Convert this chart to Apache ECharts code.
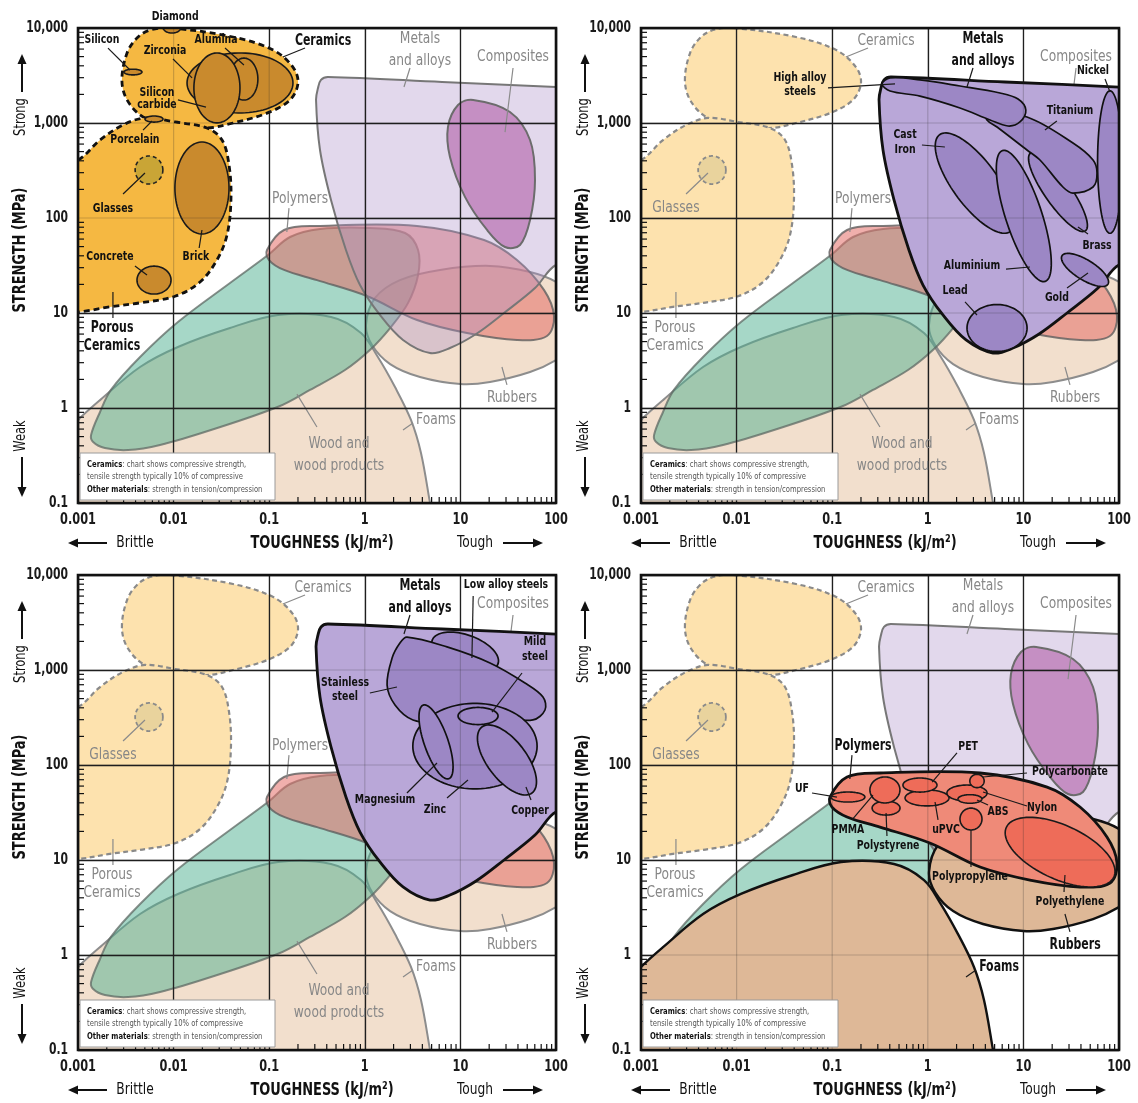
<!DOCTYPE html>
<html>
<head>
<meta charset="utf-8">
<script src="https://cdn.jsdelivr.net/npm/echarts@6/dist/echarts.min.js"></script>
<style>
html,body{margin:0;padding:0;background:#ffffff;}
#chart{width:1138px;height:1103px;}
</style>
</head>
<body>
<div id="chart"></div>
<script>
// ---------------- axis ticks ----------------
const xDecades = [0.001, 0.01, 0.1, 1, 10, 100];
const xTickLabels = ['0.001', '0.01', '0.1', '1', '10', '100'];
const yDecades = [0.1, 1, 10, 100, 1000, 10000];
const yTickLabels = ['0.1', '1', '10', '100', '1,000', '10,000'];
const minorSteps = [2, 3, 4, 5, 6, 7, 8, 9];

// ---------------- family outlines: [toughness kJ/m2, strength MPa] ----------------
const ceramicsUpper = [[0.0092,10000],[0.0418,8040],[0.110,5860],[0.177,3880],[0.200,2640],[0.165,1750],[0.0948,1270],[0.0418,1000],[0.0223,886],[0.00853,953],[0.00479,1156],[0.00326,1750],[0.00288,2840],[0.00326,5450],[0.00414,7850],[0.00566,9520]];
const ceramicsLower = [[0.001,408],[0.00170,662],[0.00296,953],[0.00502,1130],[0.01035,1025],[0.0223,886],[0.0321,662],[0.0380,361],[0.0398,155],[0.0362,66.2],[0.0284,36.1],[0.0189,21.2],[0.01035,15.0],[0.00446,12.8],[0.00216,11.6],[0.00105,10.3],[0.0007,10.3],[0.0007,420]];
const metals = [[0.348,2840],[0.412,3050],[6.43,2700],[100,2390],[160,2300],[160,30],[100,32.0],[60.3,18.3],[28.6,10],[14.6,6.01],[7.78,4.28],[4.81,3.79],[2.51,5.20],[1.44,9.53],[0.891,19.7],[0.635,46.0],[0.443,155],[0.340,520],[0.309,1750],[0.324,2340]];
const composites = [[13.6,1750],[33.0,1305],[53.5,662],[60.3,251],[53.5,95.3],[42.0,52.0],[29.3,49.5],[19.0,74.8],[11.2,166],[7.78,439],[7.41,908],[9.44,1545]];
const polymers = [[0.0948,46.0],[0.143,74.8],[0.316,82.4],[3.52,82.4],[17.7,58.6],[39.1,36.1],[74.8,17.5],[95.3,9.30],[80.5,5.73],[39.1,5.20],[11.7,6.15],[3.52,8.43],[1.05,15.1],[0.316,22.2],[0.143,28.4],[0.0995,36.1]];
const rubbers = [[1.03,7.48],[1.28,14.4],[2.33,22.2],[6.12,28.4],[20.4,31.3],[53.5,27.0],[100,21.2],[158,13.7],[158,4.60],[100,3.20],[53.5,2.39],[20.4,1.88],[10,1.79],[3.78,2.12],[1.84,2.90],[1.19,4.60]];
const foams = [[0.00065,0.460],[0.001,0.748],[0.00170,1.21],[0.00446,2.70],[0.0111,4.39],[0.0389,6.95],[0.124,9.53],[0.443,9.08],[0.912,6.15],[1.37,3.44],[2.07,1.66],[3.04,0.748],[3.87,0.336],[4.81,0.1],[5.16,0.0662],[0.00065,0.0662]];
const wood = [[0.00137,0.520],[0.00170,0.908],[0.00221,1.55],[0.00446,3.44],[0.0111,8.04],[0.0389,20.7],[0.0971,40.8],[0.165,63.1],[0.340,76.6],[1.13,78.5],[2.64,69.5],[3.61,46.0],[3.61,25.1],[2.83,12.7],[1.84,6.95],[1.13,4.08],[0.621,2.51],[0.267,1.55],[0.124,1.03],[0.0246,0.586],[0.00721,0.408],[0.00334,0.361],[0.00191,0.379],[0.00144,0.439]];

// ---------------- individual materials: ellipses {c:[toughness,strength], r:[decades, decades], a:tilt deg} ----------------
const glasses = {c:[0.00553,320], r:[0.145,0.148], a:0};
const diamond = {c:[0.00962,10000], r:[0.089,0.053], a:0};
const silicon = {c:[0.00376,3440], r:[0.094,0.03], a:0};
const porcelain = {c:[0.00624,1100], r:[0.094,0.032], a:0};
const zirconia = {c:[0.0495,2640], r:[0.554,0.316], a:0};
const alumina = {c:[0.0544,2900], r:[0.146,0.221], a:0};
const siliconCarbide = {c:[0.0284,2340], r:[0.241,0.368], a:0};
const brick = {c:[0.0198,207], r:[0.283,0.484], a:0};
const concrete = {c:[0.00624,22.2], r:[0.178,0.147], a:0};

const highAlloySteels = [[0.332,2580],[0.403,2980],[0.828,2840],[2.17,2450],[5.69,2070],[8.79,1790],[10.6,1370],[9.20,1025],[6.90,930],[4.48,1077],[2.17,1440],[0.828,1920],[0.403,2170]];
const titanium = [[4.16,1274],[10.9,1156],[33.0,615],[53.5,408],[58.9,298],[53.5,212],[33.0,183],[25.9,212],[14.9,408],[10.9,520],[5.30,908],[4.16,1077]];
const castIron = {c:[3.12,233], r:[0.63,0.235], a:-54};
const aluminium = {c:[10.1,105], r:[0.724,0.19], a:-72};
const brass = {c:[23.0,188], r:[0.50,0.137], a:-55};
const nickel = {c:[80.5,388], r:[0.13,0.75], a:0};
const gold = {c:[44.1,28.4], r:[0.283,0.105], a:-32};
const lead = {c:[5.30,6.95], r:[0.314,0.247], a:0};

const lowAlloySteels = {c:[11.2,1545], r:[0.366,0.18], a:-20};
const stainlessSteel = [[2.76,2220],[7.24,1750],[20.4,1186],[47.4,730],[73.1,520],[76.7,379],[57.4,298],[29.3,312],[12.6,361],[6.12,284],[3.19,298],[2.07,429],[1.71,695],[1.93,1337],[2.33,1920]];
const zinc = {c:[14.2,158], r:[0.65,0.45], a:0};
const magnesium = {c:[5.56,175], r:[0.41,0.125], a:-71};
const mildSteel = {c:[15.3,328], r:[0.209,0.09], a:0};
const copper = {c:[30.7,113], r:[0.435,0.205], a:-53};

const uf = {c:[0.146,46.0], r:[0.178,0.053], a:0};
const pmma = {c:[0.356,54.6], r:[0.157,0.137], a:0};
const polystyrene = {c:[0.366,35.2], r:[0.146,0.074], a:0};
const pet = {c:[0.828,61.5], r:[0.178,0.074], a:0};
const upvc = {c:[0.982,45.0], r:[0.23,0.084], a:0};
const polycarbonate = {c:[3.27,67.9], r:[0.075,0.07], a:0};
const nylon = {c:[2.57,50.7], r:[0.21,0.084], a:0};
const abs = {c:[2.76,43.9], r:[0.125,0.045], a:0};
const polypropylene = {c:[2.83,27.0], r:[0.115,0.115], a:0};
const polyethylene = {c:[24.2,12.1], r:[0.62,0.283], a:-25};

// ---------------- labels: text, anchor [toughness,strength], leader line ----------------
const familyLabels = [
  {id:'ceramics', text:'Ceramics', at:[0.366,7300], leader:[[0.237,6150],[0.139,4950]]},
  {id:'glasses', text:'Glasses', at:[0.00232,127], leader:[[0.00296,179],[0.00502,298]]},
  {id:'porous', text:'Porous\nCeramics', at:[0.00227,5.58], leader:[[0.00232,8.85],[0.00232,16.6]]},
  {id:'metals', text:'Metals\nand alloys', at:[3.78,5870], leader:[[2.97,3790],[2.57,2390]]},
  {id:'composites', text:'Composites', at:[35.5,4950], leader:[[35.5,3790],[29.3,803]]},
  {id:'polymers', text:'Polymers', at:[0.210,158], leader:[[0.161,127],[0.153,71.3]]},
  {id:'rubbers', text:'Rubbers', at:[34.7,1.27], leader:[[30.7,1.75],[27.2,2.70]]},
  {id:'foams', text:'Foams', at:[5.56,0.748], leader:[[3.19,0.695],[2.51,0.586]]},
  {id:'wood', text:'Wood and\nwood products', at:[0.537,0.320], leader:[[0.316,0.631],[0.195,1.40]]}
];
const ceramicLabels = [
  {text:'Diamond', at:[0.0104,13060], leader:null},
  {text:'Silicon', at:[0.00178,7480], leader:[[0.00206,6150],[0.00350,3610]]},
  {text:'Zirconia', at:[0.00813,5720], leader:[[0.00986,4720],[0.0156,2980]]},
  {text:'Alumina', at:[0.0278,7480], leader:[[0.0345,6150],[0.0544,4080]]},
  {text:'Silicon\ncarbide', at:[0.00670,1790], leader:[[0.0111,1750],[0.0218,1470]]},
  {text:'Porcelain', at:[0.00394,662], leader:[[0.00479,843],[0.00594,1050]]},
  {text:'Concrete', at:[0.00216,38.8], leader:[[0.00394,31.3],[0.00527,25.1]]},
  {text:'Brick', at:[0.0171,38.8], leader:[[0.0185,48.3],[0.0198,74.8]]}
];
const metalLabelsA = [
  {text:'High alloy\nsteels', at:[0.0460,2510], leader:[[0.0904,2340],[0.454,2580]]},
  {text:'Nickel', at:[53.5,3530], leader:[[71.4,2900],[80.5,2120]]},
  {text:'Titanium', at:[30.7,1337], leader:[[22.4,1050],[16.8,843]]},
  {text:'Cast\nIron', at:[0.578,631], leader:[[0.869,587],[1.51,559]]},
  {text:'Brass', at:[58.9,50.7], leader:[[47.4,67.9],[37.2,80.4]]},
  {text:'Aluminium', at:[2.90,31.3], leader:[[6.58,29.0],[11.7,30.5]]},
  {text:'Lead', at:[1.93,17.1], leader:[[2.45,13.1],[3.27,9.53]]},
  {text:'Gold', at:[22.4,14.4], leader:[[28.6,18.3],[47.4,26.4]]}
];
const metalLabelsB = [
  {text:'Low alloy steels', at:[30.0,7850], leader:[[13.6,6010],[13.2,1337]]},
  {text:'Mild\nsteel', at:[60.3,1660], leader:[[44.1,930],[21.4,361]]},
  {text:'Stainless\nsteel', at:[0.621,615], leader:[[1.13,573],[2.17,662]]},
  {text:'Magnesium', at:[1.63,42.8], leader:[[2.76,50.7],[5.69,105]]},
  {text:'Zinc', at:[5.42,33.6], leader:[[7.24,45.0],[12.0,69.5]]},
  {text:'Copper', at:[53.5,32.8], leader:[[54.8,42.8],[48.5,58.6]]}
];
const polymerLabels = [
  {text:'PET', at:[2.64,158], leader:[[2.02,134],[1.11,66.2]]},
  {text:'Polycarbonate', at:[30.7,84.3], leader:[[10.9,82.4],[3.78,74.8]]},
  {text:'UF', at:[0.0483,55.9], leader:[[0.0615,50.7],[0.112,46.0]]},
  {text:'Nylon', at:[15.7,35.2], leader:[[10.9,37.0],[3.78,52.0]]},
  {text:'ABS', at:[5.42,32.0], leader:[[4.27,37.9],[3.27,42.8]]},
  {text:'PMMA', at:[0.146,20.7], leader:[[0.161,26.4],[0.267,48.3]]},
  {text:'uPVC', at:[1.55,20.7], leader:[[1.28,26.4],[1.19,40.8]]},
  {text:'Polystyrene', at:[0.384,14.0], leader:[[0.374,17.9],[0.366,31.3]]},
  {text:'Polypropylene', at:[2.76,6.62], leader:[[2.83,8.43],[2.83,20.7]]},
  {text:'Polyethylene', at:[30.7,3.61], leader:[[26.6,4.60],[27.2,6.95]]}
];

// ---------------- presentation ----------------
const FONT = '"DejaVu Sans Condensed","Liberation Sans Narrow","DejaVu Sans",sans-serif';
const lineHeights = {'Metals\nand alloys':22, 'Wood and\nwood products':22, 'Porous\nCeramics':18, 'Silicon\ncarbide':12, 'Cast\nIron':15, 'Mild\nsteel':15};

const geometry = {ceramicsUpper, ceramicsLower, metals, composites, polymers, rubbers, foams, wood, glasses,
  diamond, silicon, porcelain, zirconia, alumina, siliconCarbide, brick, concrete,
  highAlloySteels, titanium, castIron, aluminium, brass, nickel, gold, lead,
  lowAlloySteels, stainlessSteel, zinc, magnesium, mildSteel, copper,
  uf, pmma, polystyrene, pet, upvc, polycarbonate, nylon, abs, polypropylene, polyethylene};

const fadedStyle = {
  foams:{fill:'#F2DFCD', stroke:'#8d8d8d', lineWidth:2},
  rubbers:{fill:'#F2DFCD', stroke:'#8d8d8d', lineWidth:2},
  wood:{fill:'rgba(77,175,143,0.5)', stroke:'rgba(95,105,100,0.75)', lineWidth:2},
  polymers:{fill:'rgba(228,109,104,0.55)', stroke:'rgba(95,95,95,0.8)', lineWidth:2},
  metals:{fill:'rgba(172,143,201,0.35)', stroke:'#777777', lineWidth:2},
  composites:{fill:'#C58FC3', stroke:'#6c6c6c', lineWidth:2},
  ceramicsUpper:{fill:'#FDE2AE', stroke:'#8a8a8a', lineWidth:2.2, lineDash:[5,3.5]},
  ceramicsLower:{fill:'#FDE2AE', stroke:'#8a8a8a', lineWidth:2.2, lineDash:[5,3.5]},
  glasses:{fill:'#E9D39D', stroke:'#8a8a8a', lineWidth:1.8, lineDash:[4,3]}
};
const hiStyle = {
  ceramicFamily:{fill:'#F5B842', stroke:'#111', lineWidth:2.8, lineDash:[6,4]},
  glassesH:{fill:'#C9A536', stroke:'#222', lineWidth:1.6, lineDash:[4,3]},
  ceramicSub:{fill:'#C98A2D', stroke:'#1a1a1a', lineWidth:1.6},
  metalFamily:{fill:'#B9A7D8', stroke:'#111', lineWidth:2.8},
  metalSub:{fill:'#9C87C5', stroke:'#111', lineWidth:1.7},
  tanFamily:{fill:'#DEB897', stroke:'#111', lineWidth:2.4},
  polymerFamily:{fill:'#EF8A78', stroke:'#111', lineWidth:2.8},
  polymerSub:{fill:'#EE6C59', stroke:'#1a1a1a', lineWidth:1.6}
};

const panels = [
  {ox:0, oy:0,
   faded:['foams','rubbers','wood','polymers','metals','composites'],
   hi:[['ceramicsUpper','ceramicFamily'],['ceramicsLower','ceramicFamily'],['zirconia','ceramicSub'],['alumina','ceramicSub'],['siliconCarbide','ceramicSub'],['silicon','ceramicSub'],['diamond','ceramicSub'],['porcelain','ceramicSub'],['brick','ceramicSub'],['concrete','ceramicSub'],['glasses','glassesH']],
   black:['ceramics','porous'], sub:['glasses'], hide:[], extra:ceramicLabels},
  {ox:563, oy:0,
   faded:['foams','rubbers','wood','polymers','composites','ceramicsUpper','ceramicsLower','glasses'],
   hi:[['metals','metalFamily'],['castIron','metalSub'],['aluminium','metalSub'],['brass','metalSub'],['titanium','metalSub'],['highAlloySteels','metalSub'],['nickel','metalSub'],['gold','metalSub'],['lead','metalSub']],
   black:['metals'], sub:[], hide:[], extra:metalLabelsA},
  {ox:0, oy:547,
   faded:['foams','rubbers','wood','polymers','composites','ceramicsUpper','ceramicsLower','glasses'],
   hi:[['metals','metalFamily'],['lowAlloySteels','metalSub'],['stainlessSteel','metalSub'],['zinc','metalSub'],['magnesium','metalSub'],['copper','metalSub'],['mildSteel','metalSub']],
   black:['metals'], sub:[], hide:[], extra:metalLabelsB},
  {ox:563, oy:547,
   faded:['wood','metals','composites','ceramicsUpper','ceramicsLower','glasses'],
   hi:[['foams','tanFamily'],['rubbers','tanFamily'],['polymers','polymerFamily'],['uf','polymerSub'],['polystyrene','polymerSub'],['pmma','polymerSub'],['upvc','polymerSub'],['pet','polymerSub'],['nylon','polymerSub'],['abs','polymerSub'],['polycarbonate','polymerSub'],['polypropylene','polymerSub'],['polyethylene','polymerSub']],
   black:['polymers','rubbers','foams'], sub:[], hide:['wood'], extra:polymerLabels}
];

// ---------------- drawing helpers ----------------
function ellipsePoints(api, e) {
  const lx = Math.log10(e.c[0]), ly = Math.log10(e.c[1]);
  const th = (e.a || 0) * Math.PI / 180, ct = Math.cos(th), st = Math.sin(th);
  const pts = [];
  const n = 90;
  for (let i = 0; i < n; i++) {
    const t = i / n * 2 * Math.PI;
    const u = e.r[0] * Math.cos(t), v = e.r[1] * Math.sin(t);
    pts.push(api.coord([Math.pow(10, lx + u * ct - v * st), Math.pow(10, ly + u * st + v * ct)]));
  }
  return pts;
}
function shapeEl(api, geom, style) {
  let pts, smooth = 0.35;
  if (Array.isArray(geom)) pts = geom.map(p => api.coord(p));
  else { pts = ellipsePoints(api, geom); smooth = 0; }
  return {type:'polygon', shape:{points:pts, smooth:smooth}, style:Object.assign({}, style)};
}
function leaderEl(api, lab, color) {
  return {type:'polyline', shape:{points:lab.leader.map(p => api.coord(p))}, style:{stroke:color, lineWidth:1.2, fill:null}};
}
const roleFont = {
  gray:{font:'15.5px ' + FONT, color:'#878787', sx:0.88},
  group:{font:'bold 16px ' + FONT, color:'#111111', sx:0.76},
  sub:{font:'bold 13px ' + FONT, color:'#111111', sx:0.8}
};
function textAt(x, y, text, font, fill, sx, align, lh) {
  return {type:'text', x:x, y:y, scaleX:sx, scaleY:1,
    style:{text:text, font:font, fill:fill, align:align, verticalAlign:'middle', textAlign:align, textVerticalAlign:'middle', lineHeight:lh}};
}
function textEl(api, lab, role) {
  const p = api.coord(lab.at);
  const f = roleFont[role];
  return textAt(p[0], p[1], lab.text, f.font, f.color, f.sx, 'center', lineHeights[lab.text] || 14);
}
function lineEl(a, b, color, w) {
  return {type:'line', shape:{x1:a[0], y1:a[1], x2:b[0], y2:b[1]}, style:{stroke:color, lineWidth:w}};
}

// ---------------- assemble ----------------
const grids = [], xAxes = [], yAxes = [], series = [], graphics = [];
const TICK_FONT = 'bold 15px ' + FONT;

panels.forEach((pn, i) => {
  grids.push({left:78 + pn.ox, top:28 + pn.oy, width:478, height:475, show:true, borderColor:'#111', borderWidth:2.6, backgroundColor:'rgba(0,0,0,0)', z:6});
  xAxes.push({type:'log', logBase:10, gridIndex:i, min:0.001, max:100, splitNumber:5, z:3,
    axisLine:{show:false}, axisTick:{show:false}, axisLabel:{show:false},
    splitLine:{show:true, lineStyle:{color:'#1e1e1e', width:1.3}}});
  yAxes.push({type:'log', logBase:10, gridIndex:i, min:0.1, max:10000, splitNumber:5, z:3,
    axisLine:{show:false}, axisTick:{show:false}, axisLabel:{show:false},
    splitLine:{show:true, lineStyle:{color:'#1e1e1e', width:1.3}}});

  const base = {type:'custom', coordinateSystem:'cartesian2d', xAxisIndex:i, yAxisIndex:i, data:[[1,1]], encode:{x:0, y:1}, silent:true, animation:false};
  const roleOf = id => pn.black.includes(id) ? 'group' : (pn.sub.includes(id) ? 'sub' : 'gray');

  // faded families + their gray leaders
  series.push(Object.assign({}, base, {z:2, clip:true, renderItem:(params, api) => {
    const ch = pn.faded.map(id => shapeEl(api, geometry[id], fadedStyle[id]));
    familyLabels.forEach(l => { if (roleOf(l.id) === 'gray' && !pn.hide.includes(l.id)) ch.push(leaderEl(api, l, '#8a8a8a')); });
    return {type:'group', children:ch};
  }}));
  // highlighted family
  series.push(Object.assign({}, base, {z:4, clip:true, renderItem:(params, api) => {
    return {type:'group', children:pn.hi.map(h => shapeEl(api, geometry[h[0]], hiStyle[h[1]]))};
  }}));
  // faint grid over highlight, minor ticks, tick labels
  series.push(Object.assign({}, base, {z:5, clip:false, renderItem:(params, api) => {
    const ch = [];
    const x0 = xDecades[0], x1 = xDecades[xDecades.length - 1], y0 = yDecades[0], y1 = yDecades[yDecades.length - 1];
    xDecades.slice(1, -1).forEach(v => ch.push(lineEl(api.coord([v, y0]), api.coord([v, y1]), 'rgba(40,40,40,0.22)', 1.2)));
    yDecades.slice(1, -1).forEach(v => ch.push(lineEl(api.coord([x0, v]), api.coord([x1, v]), 'rgba(40,40,40,0.22)', 1.2)));
    xDecades.slice(0, -1).forEach(d => minorSteps.forEach(k => { const p = api.coord([d * k, y0]); ch.push(lineEl(p, [p[0], p[1] - 6], '#111', 1.2)); }));
    yDecades.slice(0, -1).forEach(d => minorSteps.forEach(k => { const p = api.coord([x0, d * k]); ch.push(lineEl(p, [p[0] + 6, p[1]], '#111', 1.2)); }));
    xDecades.forEach((v, k) => { const p = api.coord([v, y0]); ch.push(textAt(p[0], p[1] + 17, xTickLabels[k], TICK_FONT, '#1a1a1a', 0.84, 'center', 16)); });
    yDecades.forEach((v, k) => { const p = api.coord([x0, v]); ch.push(textAt(p[0] - 10, p[1], yTickLabels[k], TICK_FONT, '#1a1a1a', 0.8, 'right', 16)); });
    return {type:'group', children:ch};
  }}));
  // labels
  series.push(Object.assign({}, base, {z:7, clip:false, renderItem:(params, api) => {
    const ch = [];
    familyLabels.forEach(l => {
      if (pn.hide.includes(l.id)) return;
      if (roleOf(l.id) !== 'gray' && l.leader) ch.push(leaderEl(api, l, '#1a1a1a'));
    });
    pn.extra.forEach(l => { if (l.leader) ch.push(leaderEl(api, l, '#1a1a1a')); });
    familyLabels.forEach(l => { if (!pn.hide.includes(l.id)) ch.push(textEl(api, l, roleOf(l.id))); });
    pn.extra.forEach(l => ch.push(textEl(api, l, 'sub')));
    return {type:'group', children:ch};
  }}));

  // axis titles, arrows, note box
  const ox = pn.ox, oy = pn.oy;
  const T = (x, y, text, font, rot, sx) => ({type:'text', x:x + ox, y:y + oy, rotation:rot || 0, scaleX:sx || 1,
    style:{text:text, font:font, fill:'#111', align:'center', verticalAlign:'middle', textAlign:'center', textVerticalAlign:'middle'}});
  const arrow = (x1, y1, x2, y2) => {
    const dx = x2 - x1, dy = y2 - y1, L = Math.hypot(dx, dy), ux = dx / L, uy = dy / L;
    const bx = x2 - ux * 10, by = y2 - uy * 10;
    return [
      {type:'line', shape:{x1:x1 + ox, y1:y1 + oy, x2:bx + ox, y2:by + oy}, style:{stroke:'#111', lineWidth:2}},
      {type:'polygon', shape:{points:[[x2 + ox, y2 + oy], [bx - uy * 4.5 + ox, by + ux * 4.5 + oy], [bx + uy * 4.5 + ox, by - ux * 4.5 + oy]]}, style:{fill:'#111'}}
    ];
  };
  graphics.push(T(20, 250, 'STRENGTH (MPa)', 'bold 18px ' + FONT, Math.PI / 2, 0.8));
  graphics.push(T(21, 117, 'Strong', '15px ' + FONT, Math.PI / 2, 0.85));
  graphics.push(...arrow(22, 92, 22, 54));
  graphics.push(T(21, 436, 'Weak', '15px ' + FONT, Math.PI / 2, 0.85));
  graphics.push(...arrow(22, 457, 22, 497));
  graphics.push(T(322, 543, 'TOUGHNESS (kJ/m²)', 'bold 18px ' + FONT, 0, 0.8));
  graphics.push(T(135, 543, 'Brittle', '16px ' + FONT, 0, 0.85));
  graphics.push(...arrow(107, 543, 68, 543));
  graphics.push(T(475, 543, 'Tough', '16px ' + FONT, 0, 0.85));
  graphics.push(...arrow(503, 543, 543, 543));
  graphics.push({type:'rect', shape:{x:80 + ox, y:453 + oy, width:195, height:47}, style:{fill:'#ffffff', stroke:'#9a9a9a', lineWidth:1}});
  const noteFont = '9.5px ' + FONT;
  const noteBold = 'bold 9.5px ' + FONT;
  const noteLine = (y, text) => ({type:'text', x:87 + ox, y:y + oy, scaleX:0.8,
    style:{text:text, font:noteFont, fill:'#555', align:'left', verticalAlign:'middle', textAlign:'left', textVerticalAlign:'middle',
      rich:{b:{font:noteBold, fill:'#111'}}}});
  graphics.push(noteLine(465, '{b|Ceramics}: chart shows compressive strength,'));
  graphics.push(noteLine(477, 'tensile strength typically 10% of compressive'));
  graphics.push(noteLine(490, '{b|Other materials}: strength in tension/compression'));
});

const chart = echarts.init(document.getElementById('chart'), null, {renderer:'canvas'});
chart.setOption({
  animation:false,
  backgroundColor:'#ffffff',
  grid:grids, xAxis:xAxes, yAxis:yAxes, series:series,
  graphic:{elements:graphics.map(g => Object.assign({z:10, silent:true}, g))}
});
</script>
</body>
</html>
